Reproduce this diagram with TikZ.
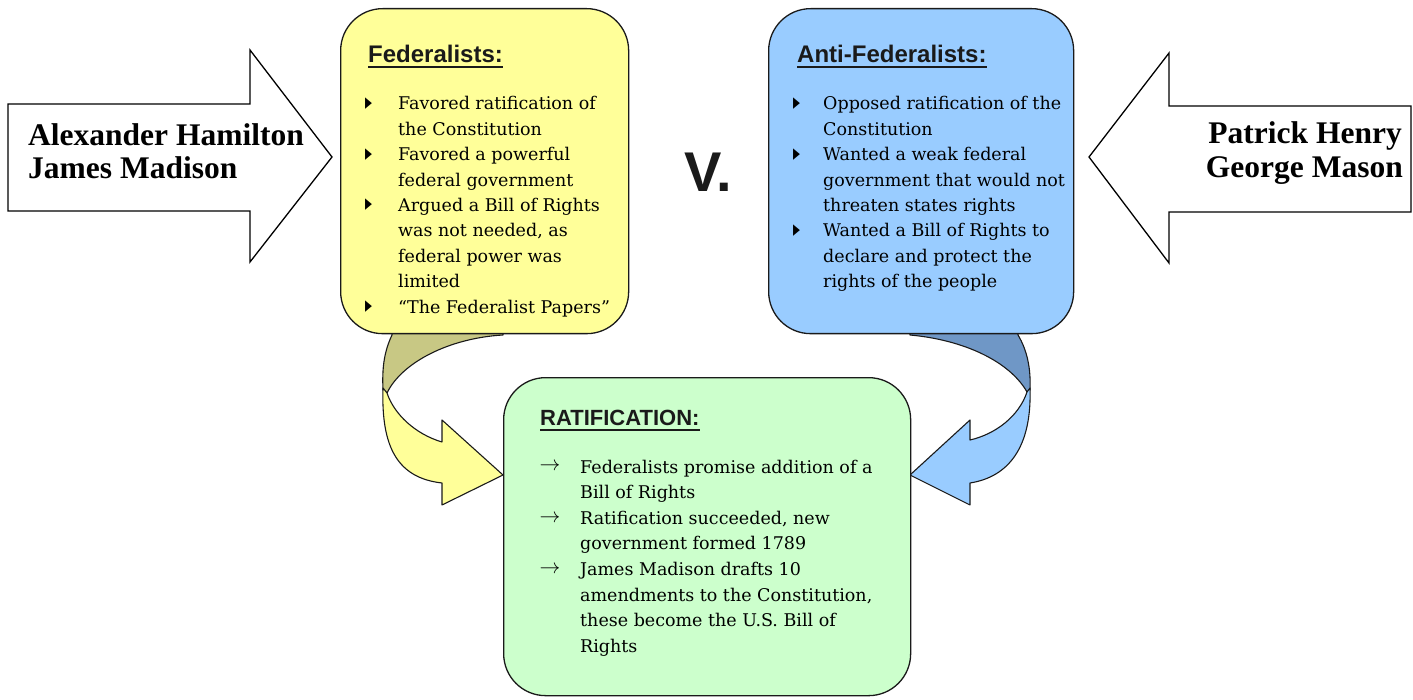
\documentclass[tikz,border=0pt]{standalone}
\usepackage{fontspec}
\setmainfont{DejaVu Serif}
\newfontfamily\hdrfont{Liberation Sans}
\newfontfamily\namefont{Liberation Serif}
\newfontfamily\symfont{DejaVu Sans}
\definecolor{fedfill}{HTML}{FFFF99}
\definecolor{antifill}{HTML}{99CCFF}
\definecolor{ratfill}{HTML}{CCFFCC}
\definecolor{fedback}{HTML}{C8C884}
\definecolor{antiback}{HTML}{6F97C6}
\definecolor{ink}{HTML}{1A1A1A}
\tikzset{
  box/.style={draw=ink, line width=1.3pt, rounded corners=42pt, inner sep=0pt, anchor=north west},
  blockarrow/.style={draw=black, line width=1.3pt, fill=white, line join=miter},
  ribbon/.style={draw=ink, line width=1.1pt, line join=round},
  body/.style={font=\fontsize{17.5}{21}\selectfont, text=black, anchor=base west, inner sep=0pt},
  hdr/.style={font=\hdrfont\bfseries\fontsize{24}{28}\selectfont, text=ink, anchor=base west, inner sep=0pt},
  uline/.style={draw=ink, line width=2pt},
  namel/.style={font=\namefont\bfseries\fontsize{31.5}{34}\selectfont, text=black, inner sep=0pt},
  bul/.style={font=\symfont\fontsize{15}{15}\selectfont, text=black, inner sep=0pt, anchor=center},
  arr/.style={font=\fontsize{21}{24}\selectfont, text=black, inner sep=0pt, anchor=center},
}
\begin{document}
\begin{tikzpicture}[x=1pt,y=-1pt]
\useasboundingbox (0,0) rectangle (1413,700);

% block arrows with names
\draw[blockarrow] (8,104) -- (250,104) -- (250,50) -- (332,157) -- (250,262) -- (250,211) -- (8,211) -- cycle;
\draw[blockarrow] (1411,106) -- (1169,106) -- (1169,53) -- (1089,157) -- (1169,263) -- (1169,212) -- (1411,212) -- cycle;
\node[namel, anchor=base west] (ah) at (28,146) {Alexander Hamilton};
\node[namel, anchor=base west] (jm) at (28,179) {James Madison};
\node[namel, anchor=base east] (ph) at (1402,144) {Patrick Henry};
\node[namel, anchor=base east] (gm) at (1403,178) {George Mason};

% curved ribbon arrows (drawn before boxes)
\draw[ribbon, fill=fedback] (392,330) -- (392,335) .. controls (384,352) and (382,368) .. (383,390)
  -- (387,393) .. controls (402,362) and (450,338) .. (503,335) -- (503,330) -- cycle;
\draw[ribbon, fill=fedfill] (383,388) .. controls (381,448) and (398,478) .. (442,483)
  -- (442,505) -- (503,475) -- (442,420) -- (442,442)
  .. controls (415,434) and (394,414) .. (387,393) -- cycle;
\draw[ribbon, fill=antiback] (1018,330) -- (1018,335) .. controls (1027,350) and (1031,368) .. (1030,390)
  -- (1027,392) .. controls (1010,362) and (965,340) .. (910,335) -- (910,330) -- cycle;
\draw[ribbon, fill=antifill] (1030,388) .. controls (1032,448) and (1008,477) .. (970,483)
  -- (970,505) -- (910,475) -- (970,420) -- (970,440)
  .. controls (996,434) and (1019,416) .. (1027,392) -- cycle;

% boxes
\node[box, fill=fedfill, minimum width=288pt, minimum height=325pt] (fed) at (340,8) {};
\node[box, fill=antifill, minimum width=305pt, minimum height=325pt] (anti) at (768,8) {};
\node[box, fill=ratfill, minimum width=407pt, minimum height=318pt] (rat) at (503,377) {};

% V.
\node[font=\hdrfont\bfseries\fontsize{56}{60}\selectfont, text=ink, anchor=base west, inner sep=0pt] (vs) at (684,192) {V.};

% headers
\node[hdr] (fedh) at (368,63) {Federalists:};
\draw[uline] ([yshift=-4.5pt]fedh.base west) -- ([yshift=-4.5pt]fedh.base east);
\node[hdr] (antih) at (797,63) {Anti-Federalists:};
\draw[uline] ([yshift=-4.5pt]antih.base west) -- ([yshift=-4.5pt]antih.base east);
\node[hdr, font=\hdrfont\bfseries\fontsize{22}{26}\selectfont] (rath) at (540,425) {RATIFICATION:};
\draw[uline] ([yshift=-5pt]rath.base west) -- ([yshift=-5pt]rath.base east);

% Federalists text
\foreach \k/\t in {0/Favored ratification of, 1/the Constitution, 2/Favored a powerful,
  3/federal government, 4/Argued a Bill of Rights, 5/{was not needed, as},
  6/federal power was, 7/limited, 8/“The Federalist Papers”}
  \node[body] (fl\k) at (398,{110+25.4*\k}) {\t};
\foreach \k in {0,2,4,8}
  \node[bul] (fb\k) at (368.5,{103.5+25.4*\k}) {\scalebox{0.6}[1]{▶}};

% Anti-Federalists text
\foreach \k/\t in {0/Opposed ratification of the, 1/Constitution, 2/Wanted a weak federal,
  3/government that would not, 4/threaten states rights, 5/Wanted a Bill of Rights to,
  6/declare and protect the, 7/rights of the people}
  \node[body] (al\k) at (823,{110+25.4*\k}) {\t};
\foreach \k in {0,2,5}
  \node[bul] (ab\k) at (796.5,{103.5+25.4*\k}) {\scalebox{0.6}[1]{▶}};

% Ratification text
\foreach \k/\t in {0/Federalists promise addition of a, 1/Bill of Rights, 2/{Ratification succeeded, new},
  3/government formed 1789, 4/James Madison drafts 10, 5/{amendments to the Constitution,},
  6/these become the U.S. Bill of, 7/Rights}
  \node[body] (rl\k) at (580,{473+25.6*\k}) {\t};
\foreach \k in {0,2,4}
  \node[arr] (rb\k) at (550,{467+25.6*\k}) {$\rightarrow$};
\end{tikzpicture}
\end{document}
